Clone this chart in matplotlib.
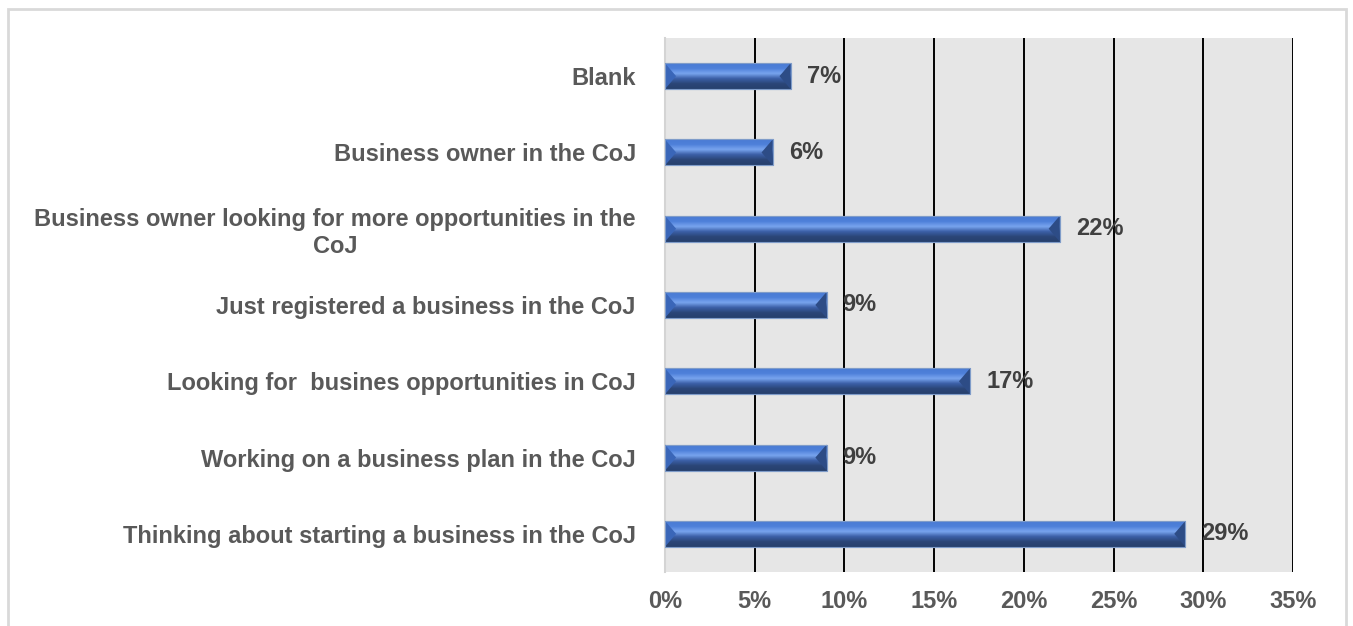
import numpy as np
import matplotlib
matplotlib.use("Agg")
import matplotlib.pyplot as plt
from matplotlib.patches import Polygon, Rectangle

# survey answers, bottom to top
categories = [
    "Thinking about starting a business in the CoJ",
    "Working on a business plan in the CoJ",
    "Looking for  busines opportunities in CoJ",
    "Just registered a business in the CoJ",
    "Business owner looking for more opportunities in the\nCoJ",
    "Business owner in the CoJ",
    "Blank",
]
shares = [29, 9, 17, 9, 22, 6, 7]
xticks = [0, 5, 10, 15, 20, 25, 30, 35]

plt.rcParams['font.family'] = ['Liberation Sans', 'DejaVu Sans']

fig = plt.figure(figsize=(13.53, 6.26), dpi=100)
ax = fig.add_axes([0.4915, 0.0863, 0.4642, 0.853])
ax.set_facecolor('#e6e6e6')

# light frame around the whole chart
fig.patches.append(Rectangle((8 / 1353, -0.05), (1346 - 8) / 1353, 1.05 - 9 / 626,
                             transform=fig.transFigure, fill=False,
                             edgecolor='#d9d9d9', linewidth=2, zorder=0))

ypos = np.arange(len(categories))
h = 0.34
bev = 0.62  # bevel width in percent units

bars = ax.barh(ypos, shares, height=h, color='#2f4e8c', edgecolor='#8da6cf',
               linewidth=0.8, zorder=3)

grad = np.linspace(0, 1, 64).reshape(-1, 1)
cmap = matplotlib.colors.LinearSegmentedColormap.from_list(
    'bev', ['#4a7bd4', '#4e80da', '#78a4ee', '#3b5fa6', '#2b4677', '#27406d'])
for y, v, b in zip(ypos, shares, bars):
    top, bot, mid = y + h / 2, y - h / 2, y
    im = ax.imshow(grad, extent=(0, v, bot, top), aspect='auto', cmap=cmap,
                   origin='upper', zorder=4, interpolation='bilinear')
    im.set_clip_path(b)
    ax.add_patch(Polygon([(0, top), (bev, mid), (0, bot)], closed=True,
                         facecolor='#3a66b8', edgecolor='none', zorder=5))
    ax.add_patch(Polygon([(v, top), (v, bot), (v - bev, mid)], closed=True,
                         facecolor='#2d4c86', edgecolor='none', zorder=5))
    ax.add_patch(Rectangle((0, bot), v, h, fill=False, edgecolor='#7f9cc9',
                           linewidth=0.8, zorder=6))
    ax.annotate(f"{v}%", (v, y), xytext=(16, 0), textcoords='offset pixels',
                ha='left', va='center', fontsize=17, fontweight='bold',
                color='#404040', zorder=7)

ax.set_xlim(0, 35)
ax.set_ylim(-0.5, 6.5)
ax.set_xticks(xticks)
ax.set_xticklabels([f"{t}%" for t in xticks], fontsize=17, fontweight='bold',
                   color='#595959')
ax.set_yticks(ypos)
ax.set_yticklabels(categories, fontsize=17, fontweight='bold', color='#595959',
                   multialignment='center')
ax.tick_params(axis='y', length=0, pad=21)
ax.tick_params(axis='x', length=0, pad=13)

for t in xticks[1:]:
    ax.axvline(t, color='black', linewidth=1.4, zorder=2)

for s in ['top', 'right', 'bottom']:
    ax.spines[s].set_visible(False)
ax.spines['left'].set_color('#d4d4d4')
ax.spines['left'].set_linewidth(1.5)

fig.savefig('out.png', dpi=100, facecolor='white')
